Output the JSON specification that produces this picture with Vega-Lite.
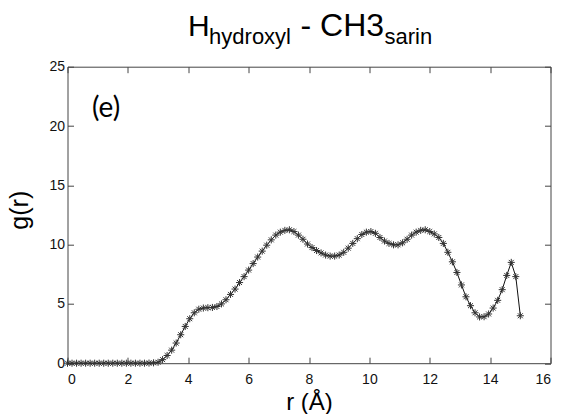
{
  "$schema": "https://vega.github.io/schema/vega-lite/v6.json",
  "width": 483,
  "height": 296.5,
  "autosize": {"type": "none"},
  "padding": {"left": 67.5, "top": 66.7, "right": 12.5, "bottom": 50.8},
  "background": "white",
  "config": {
    "view": {"stroke": "#444", "strokeWidth": 1},
    "font": "Liberation Sans",
    "axis": {
      "domain": false,
      "grid": false,
      "tickColor": "#444",
      "tickSize": -6,
      "labelFont": "Liberation Sans",
      "labelFontSize": 14,
      "labelColor": "#111",
      "titleFont": "Liberation Sans",
      "titleFontWeight": "normal",
      "titleColor": "#000"
    }
  },
  "data": {
    "values": [
      {"r": 0.00, "g": 0}, {"r": 0.15, "g": 0}, {"r": 0.30, "g": 0}, {"r": 0.45, "g": 0},
      {"r": 0.60, "g": 0}, {"r": 0.75, "g": 0}, {"r": 0.90, "g": 0}, {"r": 1.05, "g": 0},
      {"r": 1.20, "g": 0}, {"r": 1.35, "g": 0}, {"r": 1.50, "g": 0}, {"r": 1.65, "g": 0},
      {"r": 1.80, "g": 0}, {"r": 1.95, "g": 0}, {"r": 2.10, "g": 0}, {"r": 2.25, "g": 0},
      {"r": 2.40, "g": 0}, {"r": 2.55, "g": 0}, {"r": 2.70, "g": 0.01}, {"r": 2.85, "g": 0.03},
      {"r": 3.00, "g": 0.08}, {"r": 3.15, "g": 0.3}, {"r": 3.30, "g": 0.65}, {"r": 3.45, "g": 1.1},
      {"r": 3.60, "g": 1.7}, {"r": 3.75, "g": 2.4}, {"r": 3.90, "g": 3.1}, {"r": 4.05, "g": 3.75},
      {"r": 4.20, "g": 4.25}, {"r": 4.35, "g": 4.55}, {"r": 4.50, "g": 4.65}, {"r": 4.65, "g": 4.68},
      {"r": 4.80, "g": 4.7}, {"r": 4.95, "g": 4.78}, {"r": 5.10, "g": 5.0}, {"r": 5.25, "g": 5.35},
      {"r": 5.40, "g": 5.8}, {"r": 5.55, "g": 6.25}, {"r": 5.70, "g": 6.8}, {"r": 5.85, "g": 7.3},
      {"r": 6.00, "g": 7.85}, {"r": 6.15, "g": 8.4}, {"r": 6.30, "g": 8.95}, {"r": 6.45, "g": 9.45},
      {"r": 6.60, "g": 9.95}, {"r": 6.75, "g": 10.4}, {"r": 6.90, "g": 10.8}, {"r": 7.05, "g": 11.05},
      {"r": 7.20, "g": 11.2}, {"r": 7.35, "g": 11.25}, {"r": 7.50, "g": 11.1}, {"r": 7.65, "g": 10.8},
      {"r": 7.80, "g": 10.45}, {"r": 7.95, "g": 10.05}, {"r": 8.10, "g": 9.75}, {"r": 8.25, "g": 9.5},
      {"r": 8.40, "g": 9.3}, {"r": 8.55, "g": 9.12}, {"r": 8.70, "g": 9.03}, {"r": 8.85, "g": 9.03},
      {"r": 9.00, "g": 9.12}, {"r": 9.15, "g": 9.35}, {"r": 9.30, "g": 9.7}, {"r": 9.45, "g": 10.1},
      {"r": 9.60, "g": 10.5}, {"r": 9.75, "g": 10.85}, {"r": 9.90, "g": 11.05}, {"r": 10.05, "g": 11.1},
      {"r": 10.20, "g": 10.95}, {"r": 10.35, "g": 10.6}, {"r": 10.50, "g": 10.3}, {"r": 10.65, "g": 10.1},
      {"r": 10.80, "g": 9.98}, {"r": 10.95, "g": 9.98}, {"r": 11.10, "g": 10.15}, {"r": 11.25, "g": 10.45},
      {"r": 11.40, "g": 10.8}, {"r": 11.55, "g": 11.05}, {"r": 11.70, "g": 11.2}, {"r": 11.85, "g": 11.25},
      {"r": 12.00, "g": 11.1}, {"r": 12.15, "g": 10.9}, {"r": 12.30, "g": 10.6}, {"r": 12.45, "g": 10.1},
      {"r": 12.60, "g": 9.35}, {"r": 12.75, "g": 8.55}, {"r": 12.90, "g": 7.65}, {"r": 13.05, "g": 6.6},
      {"r": 13.20, "g": 5.6}, {"r": 13.35, "g": 4.85}, {"r": 13.50, "g": 4.25}, {"r": 13.65, "g": 3.9},
      {"r": 13.80, "g": 3.92}, {"r": 13.95, "g": 4.15}, {"r": 14.10, "g": 4.65}, {"r": 14.25, "g": 5.3},
      {"r": 14.40, "g": 6.2}, {"r": 14.55, "g": 7.4}, {"r": 14.70, "g": 8.5}, {"r": 14.85, "g": 7.3},
      {"r": 15.00, "g": 4.0}
    ]
  },
  "layer": [
    {
      "mark": {"type": "line", "color": "#111", "strokeWidth": 1},
      "encoding": {
        "x": {
          "field": "r", "type": "quantitative",
          "scale": {"domain": [0, 16], "nice": false},
          "axis": {
            "orient": "bottom",
            "values": [0, 2, 4, 6, 8, 10, 12, 14, 16],
            "labelPadding": 15,
            "title": "r (Å)",
            "titleFontSize": 24,
            "titleBaseline": "alphabetic",
            "titleY": 46
          }
        },
        "y": {
          "field": "g", "type": "quantitative",
          "scale": {"domain": [0, 25], "nice": false},
          "axis": {
            "orient": "left",
            "values": [0, 5, 10, 15, 20, 25],
            "labelPadding": 9,
            "title": "g(r)",
            "titleFontSize": 25,
            "titleBaseline": "alphabetic",
            "titleX": -40,
            "titleY": 143
          }
        }
      }
    },
    {
      "mark": {
        "type": "point",
        "shape": "M-1,0L1,0M0,-1L0,1M-0.7,-0.7L0.7,0.7M-0.7,0.7L0.7,-0.7",
        "filled": false,
        "stroke": "#333",
        "strokeWidth": 1,
        "size": 50,
        "opacity": 1
      },
      "encoding": {
        "x": {
          "field": "r", "type": "quantitative",
          "axis": {"orient": "top", "values": [0, 2, 4, 6, 8, 10, 12, 14, 16], "labels": false, "title": null}
        },
        "y": {
          "field": "g", "type": "quantitative",
          "axis": {"orient": "right", "values": [0, 5, 10, 15, 20, 25], "labels": false, "title": null}
        }
      }
    },
    {
      "data": {"values": [{}]},
      "mark": {"type": "text", "text": "(e)", "font": "Lato", "fontSize": 28, "align": "left", "baseline": "alphabetic", "color": "#000"},
      "encoding": {
        "x": {"datum": 0.81, "type": "quantitative", "axis": null},
        "y": {"datum": 20.8, "type": "quantitative", "axis": null}
      }
    },
    {
      "data": {"values": [{}]},
      "mark": {"type": "text", "text": "H", "font": "Liberation Sans", "fontSize": 30, "align": "left", "baseline": "alphabetic", "color": "#000"},
      "encoding": {
        "x": {"datum": 3.99, "type": "quantitative", "axis": null},
        "y": {"datum": 27.55, "type": "quantitative", "axis": null}
      }
    },
    {
      "data": {"values": [{}]},
      "mark": {"type": "text", "text": "hydroxyl", "font": "Liberation Sans", "fontSize": 22, "align": "left", "baseline": "alphabetic", "color": "#000"},
      "encoding": {
        "x": {"datum": 4.69, "type": "quantitative", "axis": null},
        "y": {"datum": 26.88, "type": "quantitative", "axis": null}
      }
    },
    {
      "data": {"values": [{}]},
      "mark": {"type": "text", "text": "- CH3", "font": "Liberation Sans", "fontSize": 32, "align": "left", "baseline": "alphabetic", "color": "#000"},
      "encoding": {
        "x": {"datum": 7.72, "type": "quantitative", "axis": null},
        "y": {"datum": 27.55, "type": "quantitative", "axis": null}
      }
    },
    {
      "data": {"values": [{}]},
      "mark": {"type": "text", "text": "sarin", "font": "Liberation Sans", "fontSize": 22, "align": "left", "baseline": "alphabetic", "color": "#000"},
      "encoding": {
        "x": {"datum": 10.5, "type": "quantitative", "axis": null},
        "y": {"datum": 26.88, "type": "quantitative", "axis": null}
      }
    }
  ],
  "resolve": {"axis": {"x": "independent", "y": "independent"}}
}
